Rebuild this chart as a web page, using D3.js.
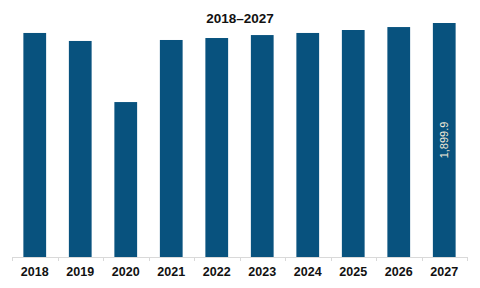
<!DOCTYPE html>
<html><head><meta charset="utf-8">
<script src="https://cdn.jsdelivr.net/npm/d3@7"></script>
<style>body{margin:0;background:#fff}</style>
</head><body><svg id="c" width="480" height="288"></svg>
<script>
const years = ["2018","2019","2020","2021","2022","2023","2024","2025","2026","2027"];
const values = [1819, 1754, 1258, 1762, 1778, 1802, 1819, 1843, 1867, 1899.9];
const labelIndex = [9];
const title = "2018–2027";

const svg = d3.select("#c");
const x = d3.scaleBand().domain(years).range([12, 467]).paddingInner(0.5).paddingOuter(0.25);
const y = d3.scaleLinear().domain([0, 1899.9]).range([257, 23]);

svg.append("text").attr("x", 240).attr("y", 23).attr("text-anchor", "middle")
  .attr("font-family", "Liberation Sans, Arial, sans-serif").attr("font-weight", "bold")
  .attr("font-size", 13.5).attr("fill", "#111").text(title);

svg.selectAll("rect.bar").data(years).join("rect").attr("class","bar")
  .attr("x", d => x(d)).attr("width", x.bandwidth())
  .attr("y", (d,i) => y(values[i])).attr("height", (d,i) => y(0) - y(values[i]))
  .attr("fill", "#08527e");

// axis
const g = svg.append("g");
g.append("line").attr("x1", 12).attr("x2", 467).attr("y1", 257.5).attr("y2", 257.5)
  .attr("stroke", "#d9d9d9");
const step = x.step();
const bounds = d3.range(years.length + 1).map(i => 12 + i * step);
g.selectAll("line.tick").data(bounds).join("line").attr("class","tick")
  .attr("x1", d => Math.round(d) + 0.5).attr("x2", d => Math.round(d) + 0.5)
  .attr("y1", 257).attr("y2", 261).attr("stroke", "#d9d9d9");
g.selectAll("text.tl").data(years).join("text").attr("class","tl")
  .attr("x", d => x(d) + x.bandwidth()/2).attr("y", 275.5).attr("text-anchor","middle")
  .attr("font-family", "Liberation Sans, Arial, sans-serif").attr("font-weight","bold")
  .attr("font-size", 12.5).attr("fill", "#111").text(d => d);

// value label
labelIndex.forEach(i => {
  const cx = x(years[i]) + x.bandwidth()/2;
  const cy = (y(values[i]) + y(0)) / 2;
  svg.append("text").attr("transform", `translate(${cx+3.5},${cy}) rotate(-90)`)
    .attr("text-anchor","middle").attr("font-family","Liberation Sans, Arial, sans-serif")
    .attr("font-size", 11).attr("fill", "#f3ead8")
    .text(d3.format(",.1f")(values[i]));
});
</script></body></html>
